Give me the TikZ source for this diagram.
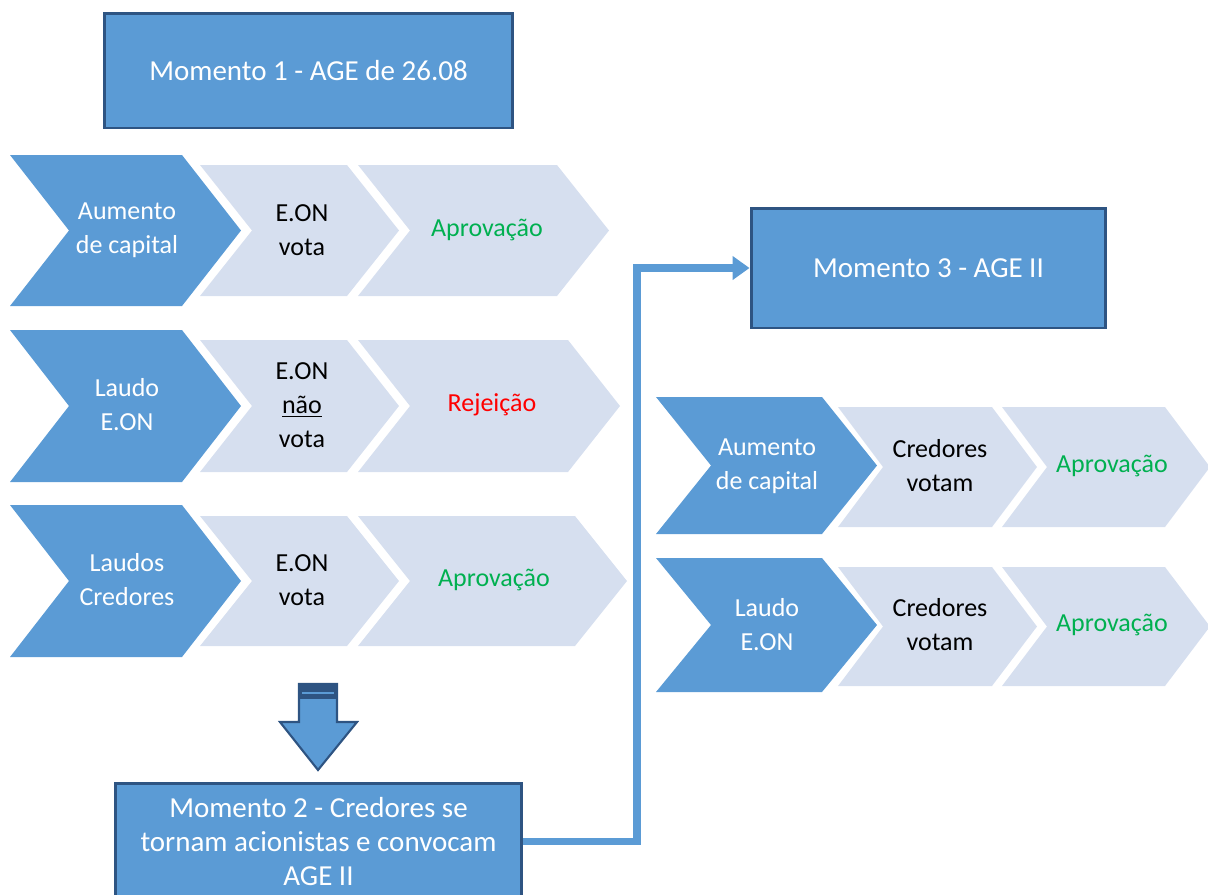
\documentclass[tikz,border=0pt]{standalone}
\usepackage{fontspec}
\setmainfont{Carlito}
\usepackage{tikz}
\usetikzlibrary{arrows.meta, calc}
\definecolor{boxblue}{RGB}{91,155,213}
\definecolor{boxedge}{RGB}{46,84,130}
\definecolor{paleblue}{RGB}{214,223,239}
\definecolor{okgreen}{RGB}{0,176,80}
% chevron: left x, notch depth, flat right x, top y, bottom y, colour
\newcommand{\chev}[6]{\fill[#6] (#1,#4) -- (#3,#4) -- ({#3+#2},{(#4+#5)/2}) -- (#3,#5) -- (#1,#5) -- ({#1+#2},{(#4+#5)/2}) -- cycle;}

\begin{document}
\begin{tikzpicture}[x=0.02cm, y=-0.02cm,
    momento/.style={draw=boxedge, line width=1.7pt, fill=boxblue, text=white, inner sep=0pt, align=center, font=\fontsize{16.5}{19.5}\selectfont},
    chevtxt/.style={align=center, inner sep=0pt, font=\fontsize{14.8}{19.3}\selectfont}]
    \useasboundingbox (0,0) rectangle (1208,894);

    % Momento 1
    \node[momento, minimum width=8.18cm, minimum height=2.3cm] (m1) at (308.5,70.5) {Momento 1 - AGE de 26.08};

    % left chevrons
    \chev{10}{59}{182}{155}{306}{boxblue} \chev{200}{52}{347}{165}{296}{paleblue} \chev{358}{52}{557}{165}{296}{paleblue}
    \chev{10}{59}{182}{330}{482}{boxblue} \chev{200}{52}{347}{340}{472}{paleblue} \chev{358}{52}{568}{340}{472}{paleblue}
    \chev{10}{59}{182}{505}{657}{boxblue} \chev{200}{52}{347}{516}{646}{paleblue} \chev{358}{52}{575}{516}{646}{paleblue}
    \node[chevtxt, text=white] (capA) at (127,230) {Aumento\\de capital};
    \node[chevtxt] (votaA) at (302,230) {E.ON\\vota};
    \node[chevtxt, text=okgreen] (resA) at (487,230) {Aprovação};
    \node[chevtxt, text=white] (laudoA) at (127,405) {Laudo\\E.ON};
    \node[chevtxt] (votaB) at (302,405) {E.ON\\\underline{não}\\vota};
    \node[chevtxt, text=red] (resB) at (492,405) {Rejeição};
    \node[chevtxt, text=white] (laudoC) at (127,580) {Laudos\\Credores};
    \node[chevtxt] (votaC) at (302,580) {E.ON\\vota};
    \node[chevtxt, text=okgreen] (resC) at (494,580) {Aprovação};

    % block arrow down
    \filldraw[fill=boxblue, draw=boxedge, line width=1.2pt] (299,684) -- (337,684) -- (337,722) -- (357,722) -- (318,770) -- (280,722) -- (299,722) -- cycle;
    \fill[boxedge] (299,684) rectangle (337,699);
    \draw[boxblue, line width=1pt] (302,693) -- (334,693);

    % Momento 2 and 3
    \node[momento, minimum width=8.14cm, minimum height=2.34cm] (m2) at (318.5,841.5) {Momento 2 - Credores se\\tornam acionistas e convocam\\AGE II};
    \node[momento, minimum width=7.1cm, minimum height=2.4cm] (m3) at (928.5,268) {Momento 3 - AGE II};
    \coordinate (bend) at (637,0);
    \draw[boxblue, line width=4pt, -{Triangle[length=0.34cm, width=0.46cm]}] (m2.east) -- (m2.east -| bend) |- (m3.west);

    % right chevrons
    \chev{656}{55}{822}{397}{534}{boxblue} \chev{838}{45}{992}{407}{527}{paleblue} \chev{1002}{45}{1165}{407}{527}{paleblue}
    \chev{656}{55}{822}{558}{692}{boxblue} \chev{838}{45}{992}{567}{686}{paleblue} \chev{1002}{45}{1165}{567}{686}{paleblue}
    \node[chevtxt, text=white] (capR) at (767,466) {Aumento\\de capital};
    \node[chevtxt] (credR) at (940,466) {Credores\\votam};
    \node[chevtxt, text=okgreen] (resR) at (1112,466) {Aprovação};
    \node[chevtxt, text=white] (laudoR) at (767,625) {Laudo\\E.ON};
    \node[chevtxt] (credS) at (940,625) {Credores\\votam};
    \node[chevtxt, text=okgreen] (resS) at (1112,625) {Aprovação};
\end{tikzpicture}
\end{document}
